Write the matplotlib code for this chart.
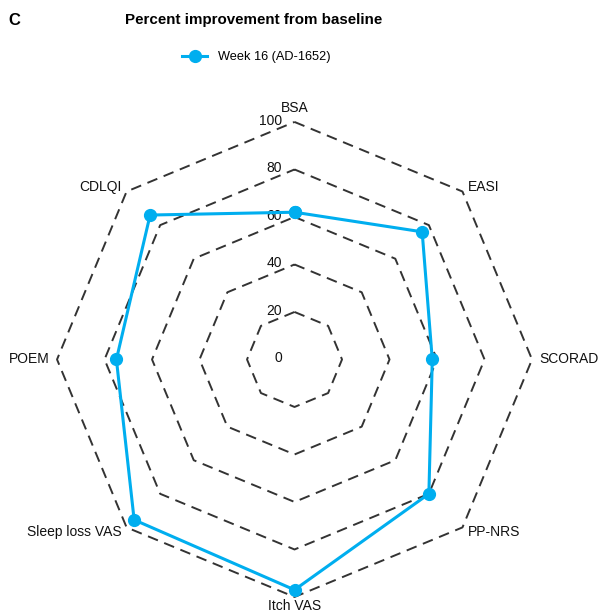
import matplotlib
matplotlib.use('Agg')
import matplotlib.pyplot as plt
import numpy as np

plt.rcParams['font.family'] = ['Liberation Sans', 'DejaVu Sans']

# Data
categories = ['BSA', 'EASI', 'SCORAD', 'PP-NRS', 'Itch VAS', 'Sleep loss VAS', 'POEM', 'CDLQI']
week16 = [62, 76, 58, 80, 97, 95.5, 75, 86]
levels = [20, 40, 60, 80, 100]
tick_labels = ['0', '20', '40', '60', '80', '100']

blue = '#00AEEF'
grid_col = '#333333'

fig = plt.figure(figsize=(5.99, 6.15), dpi=100)
ax = fig.add_axes([0.0952, 0.0293, 0.793, 0.7724], projection='polar')
ax.set_theta_offset(np.pi / 2)
ax.set_theta_direction(-1)
ax.set_ylim(0, 100)
ax.grid(False)
ax.spines['polar'].set_visible(False)
ax.set_xticks([])
ax.set_yticks([])
ax.patch.set_visible(False)

angles = np.linspace(0, 2 * np.pi, len(categories), endpoint=False)
closed = np.append(angles, angles[0])

# octagon rings
for lvl in levels:
    ax.plot(closed, [lvl] * len(closed), color=grid_col, lw=1.4,
            linestyle=(0, (5.5, 3.5)), zorder=1, clip_on=False)

# radial tick labels
for i, lab in enumerate(tick_labels):
    ax.annotate(lab, xy=(0, i * 20), xytext=(-9, 1), textcoords='offset points',
                ha='right', va='center', fontsize=10, color='#111111')

# category labels
for ang, cat in zip(angles, categories):
    s, c = np.sin(ang), np.cos(ang)
    ha = 'left' if s > 0.1 else ('right' if s < -0.1 else 'center')
    if abs(s) < 0.1:
        va = 'bottom' if c > 0 else 'top'
        off = (0, 5) if c > 0 else (0, -1.5)
    else:
        va = 'center'
        off = (5 * s, 5 * c)
    ax.annotate(cat, xy=(ang, 100), xytext=off, textcoords='offset points',
                ha=ha, va=va, fontsize=10, color='#111111', annotation_clip=False)

vals = np.append(week16, week16[0])
line, = ax.plot(closed, vals, color=blue, lw=2.2, marker='o', markersize=8.5,
                zorder=3, clip_on=False, label='Week 16 (AD-1652)')

fig.text(0.0135, 0.967, 'C', fontsize=12, fontweight='bold', va='center')
fig.text(0.424, 0.967, 'Percent improvement from baseline', fontsize=10.9,
         fontweight='bold', ha='center', va='center')
fig.legend(handles=[line], loc='center', bbox_to_anchor=(0.428, 0.907), frameon=False,
           fontsize=9.2, handlelength=2.0, handletextpad=0.85)

fig.savefig('out.png', dpi=100)
